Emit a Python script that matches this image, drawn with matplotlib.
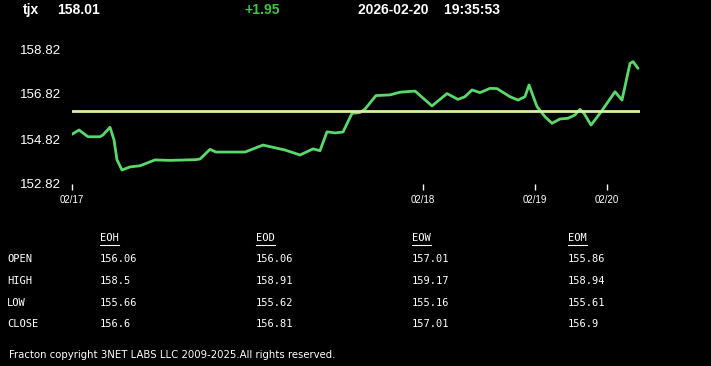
import numpy as np
import matplotlib
matplotlib.use("Agg")
import matplotlib.pyplot as plt
from matplotlib.lines import Line2D

# header
symbol = "tjx"
last_price = "158.01"
change = "+1.95"
stamp = "2026-02-20    19:35:53"

# price line (x = session position, y = price)
pos = [72, 79, 88, 100, 103, 110, 114, 117, 122, 130, 140, 155, 170, 195, 200,
       210, 216, 245, 263, 285, 300, 313, 320, 327, 335, 343, 352, 360, 365,
       376, 390, 400, 415, 432, 447, 458, 465, 472, 480, 490, 497, 510, 518,
       525, 529, 537, 545, 552, 560, 568, 575, 580, 584, 591, 600, 615, 622,
       630, 633, 638]
price = [155.03, 155.22, 154.92, 154.92, 155.00, 155.34, 154.78, 153.89, 153.44,
         153.58, 153.63, 153.89, 153.87, 153.90, 153.93, 154.36, 154.24, 154.24,
         154.55, 154.33, 154.11, 154.38, 154.30, 155.14, 155.09, 155.13, 155.96,
         156.00, 156.15, 156.75, 156.78, 156.90, 156.95, 156.29, 156.84, 156.58,
         156.70, 157.00, 156.88, 157.07, 157.06, 156.70, 156.55, 156.70, 157.22,
         156.26, 155.81, 155.52, 155.71, 155.74, 155.89, 156.14, 155.96, 155.44,
         155.96, 156.92, 156.55, 158.18, 158.26, 157.96]
open_level = 156.06

yticks = [152.82, 154.82, 156.82, 158.82]
date_pos = [72, 423, 535, 607]
date_labels = ["02/17", "02/18", "02/19", "02/20"]

# summary table
periods = ["EOH", "EOD", "EOW", "EOM"]
row_names = ["OPEN", "HIGH", "LOW", "CLOSE"]
opens = ["156.06", "156.06", "157.01", "155.86"]
highs = ["158.5", "158.91", "159.17", "158.94"]
lows = ["155.66", "155.62", "155.16", "155.61"]
closes = ["156.6", "156.81", "157.01", "156.9"]

W, H = 711, 366
fig = plt.figure(figsize=(W / 100, H / 100), dpi=100, facecolor="black")

def fx(px):
    return px / W

def fy(py):
    return 1 - py / H

ax = fig.add_axes([fx(72), fy(184), fx(640) - fx(72), fy(49) - fy(184)])
ax.set_facecolor("black")
ax.plot(pos, price, color="#5ad86a", lw=2, solid_joinstyle="round",
        solid_capstyle="round")
ax.axhline(open_level, color="#d8f0a0", lw=2)
ax.set_xlim(72, 640)
ax.set_ylim(152.82, 158.82)
ax.set_yticks(yticks)
ax.set_yticklabels([f"{v:.2f}" for v in yticks], fontsize=9.6,
                   family="Liberation Sans", color="white")
ax.set_xticks(date_pos)
ax.set_xticklabels(date_labels, fontsize=7, family="Liberation Sans", color="white")
ax.tick_params(axis="y", length=0, pad=8)
ax.tick_params(axis="x", length=4, width=1, color="white", pad=4)
for s in ax.spines.values():
    s.set_visible(False)

# header text
hkw = dict(color="white", fontsize=10, fontweight="bold",
           family="Liberation Sans", va="center")
fig.text(fx(23), fy(10), symbol, **hkw)
fig.text(fx(57), fy(10), last_price, **hkw)
fig.text(fx(244), fy(10), change, **{**hkw, "color": "#3cc83c"})
fig.text(fx(358), fy(10), stamp, **hkw)

# table
mono = dict(color="white", fontsize=7.5, family="DejaVu Sans Mono", va="center")
col_x = [100, 256, 412, 568]
row_y = [259, 281, 303, 324]
fig.canvas.draw()
r = fig.canvas.get_renderer()
for x, p in zip(col_x, periods):
    t = fig.text(fx(x), fy(238), p, **mono)
    bb = t.get_window_extent(r)
    fig.add_artist(Line2D([fx(x), fx(x) + bb.width / W], [fy(245), fy(245)],
                          color="white", lw=0.8))
for y, name in zip(row_y, row_names):
    fig.text(fx(7), fy(y), name, **mono)
for x, col in zip(col_x, zip(opens, highs, lows, closes)):
    for y, v in zip(row_y, col):
        fig.text(fx(x), fy(y), v, **mono)

fig.text(fx(9), fy(355), "Fracton copyright 3NET LABS LLC 2009-2025.All rights reserved.",
         color="white", fontsize=7.3, family="Liberation Sans Narrow", va="center")

fig.savefig("out.png", dpi=100, facecolor="black")
